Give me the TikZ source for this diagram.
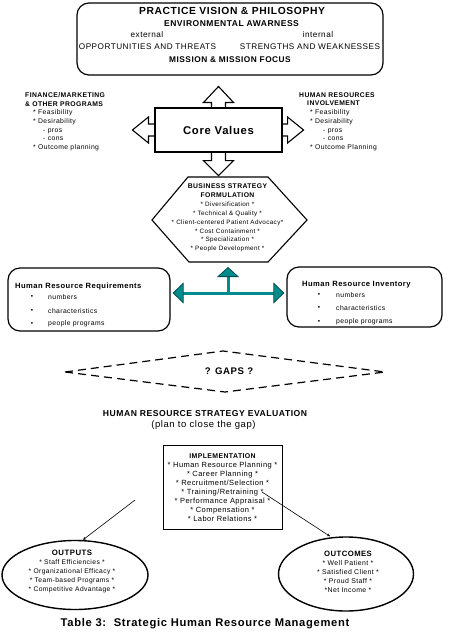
\documentclass[tikz,border=0pt]{standalone}
\usepackage{fontspec}
\setmainfont{Liberation Sans}[LetterSpace=6]
\usetikzlibrary{arrows.meta,shapes.geometric,calc}
\definecolor{tealA}{RGB}{0,140,140}
\definecolor{tealB}{RGB}{0,80,80}
\newcommand\fs[2]{\fontsize{#1}{#2}\selectfont}
\tikzset{
  thead/.tip={Triangle[length=11pt,width=21pt,fill=tealA,color=tealB,line width=0.8pt]},
  tstem/.tip={Triangle[length=10pt,width=22pt,fill=tealA,color=tealB,line width=0.8pt]}
}
\begin{document}
\begin{tikzpicture}[x=1pt,y=-1pt,
  box/.style={draw, line width=1.2pt, rounded corners=12pt, inner sep=0pt},
  plain/.style={inner sep=0pt},
  blk/.style={draw, line width=1.1pt, line join=miter},
  tealline/.style={draw=tealA, line width=3pt},
  thin/.style={draw, line width=0.6pt, -{Stealth[length=3pt,width=3pt]}},
  oval/.style={ellipse, draw, line width=1.4pt, inner sep=0pt}
]
\useasboundingbox (0,0) rectangle (450,635);

% ---------- top box ----------
\node[box, minimum width=306pt, minimum height=72pt] (vision) at (230,39) {};
\node[plain, font=\bfseries\fs{10.3}{11}] (t1) at (232,11) {PRACTICE VISION \& PHILOSOPHY};
\node[plain, font=\bfseries\fs{8.5}{9}] (t2) at (231.5,24) {ENVIRONMENTAL AWARNESS};
\node[plain, font=\fs{8.2}{9}] (t3) at (147,35) {external};
\node[plain, font=\fs{8.2}{9}] (t4) at (318,35) {internal};
\node[plain, font=\fs{8.2}{9}] (t5) at (147.5,47) {OPPORTUNITIES AND THREATS};
\node[plain, font=\fs{8.2}{9}] (t6) at (310,47) {STRENGTHS AND WEAKNESSES};
\node[plain, font=\bfseries\fs{8.3}{9}] (t7) at (230,60) {MISSION \& MISSION FOCUS};

% ---------- side texts ----------
\node[plain, anchor=north west, align=left, font=\fs{6.8}{8.7}] (fin) at (25,92.3)
 {\textbf{FINANCE/MARKETING}\\
  \textbf{\& OTHER PROGRAMS}\\
  \hspace*{8pt}* Feasibility\\
  \hspace*{8pt}* Desirability\\
  \hspace*{18pt}- pros\\
  \hspace*{18pt}- cons\\
  \hspace*{8pt}* Outcome planning};
\node[plain, anchor=north west, align=left, font=\fs{6.8}{8.7}] (hri) at (299,92.3)
 {\textbf{HUMAN RESOURCES}\\
  \hspace*{8pt}\textbf{INVOLVEMENT}\\
  \hspace*{11pt}* Feasibility\\
  \hspace*{11pt}* Desirability\\
  \hspace*{24pt}- pros\\
  \hspace*{24pt}- cons\\
  \hspace*{11pt}* Outcome Planning};

% ---------- core values ----------
\node[draw, line width=1.1pt, minimum width=127pt, minimum height=44pt, inner sep=0pt,
      font=\bfseries\fs{11.3}{12}] (core) at (218.5,130) {Core Values};
% up
\draw[blk] ($(core.north)+(-7,0)$) -- ++(0,-5) -- ++(-8,0) -- ($(core.north)+(0,-21)$)
  -- ($(core.north)+(15,-5)$) -- ++(-8,0) -- ++(0,5);
% left
\draw[blk] ($(core.west)+(0,-6)$) -- ++(-6,0) -- ++(0,-7) -- ($(core.west)+(-22,0)$)
  -- ($(core.west)+(-6,13)$) -- ++(0,-7) -- ++(6,0);
% right
\draw[blk] ($(core.east)+(0,-6)$) -- ++(5,0) -- ++(0,-7) -- ($(core.east)+(21,0)$)
  -- ($(core.east)+(5,13)$) -- ++(0,-7) -- ++(-5,0);
% down (to strategy)
\draw[blk] ($(core.south)+(-7,0)$) -- ++(0,8) -- ++(-8,0) -- ($(core.south)+(0,23)$)
  -- ($(core.south)+(15,8)$) -- ++(-8,0) -- ++(0,-8);

% ---------- business strategy hexagon ----------
\draw[line width=1.1pt, line join=miter] (188,177) -- (268,177) -- (307,220) -- (268,262)
  -- (189,262) -- (152,220) -- cycle;
\coordinate (hexS) at (228,262);
\node[plain, align=center, font=\fs{6.3}{8.9}] (bsf) at (227.5,218)
 {{\bfseries\fs{6.8}{8.9}BUSINESS STRATEGY}\\
  {\bfseries\fs{6.8}{8.9}FORMULATION}\\
  * Diversification *\\
  * Technical \& Quality *\\
  * Client-centered Patient Advocacy*\\
  * Cost Containment *\\
  * Specialization *\\
  * People Development *};

% ---------- HR boxes ----------
\node[box, minimum width=162pt, minimum height=63pt] (hrreq) at (89,299.5) {};
\node[box, minimum width=155pt, minimum height=60pt] (hrinv) at (364.5,297) {};

\node[plain, anchor=west, font=\bfseries\fs{7.6}{9}] (rq0) at (15,287) {Human Resource Requirements};
\node[plain, font=\fs{6.5}{8}] (rb1) at (32,297) {\textbullet};
\node[plain, font=\fs{6.5}{8}] (rb2) at (32,311) {\textbullet};
\node[plain, font=\fs{6.5}{8}] (rb3) at (32,323.5) {\textbullet};
\node[plain, anchor=west, font=\fs{6.8}{8}] (rq1) at (48,297) {numbers};
\node[plain, anchor=west, font=\fs{6.8}{8}] (rq2) at (48,311) {characteristics};
\node[plain, anchor=west, font=\fs{6.8}{8}] (rq3) at (48,323.5) {people programs};

\node[plain, anchor=west, font=\bfseries\fs{7.6}{9}] (iv0) at (302,285) {Human Resource Inventory};
\node[plain, font=\fs{6.5}{8}] (ib1) at (319,295) {\textbullet};
\node[plain, font=\fs{6.5}{8}] (ib2) at (319,308) {\textbullet};
\node[plain, font=\fs{6.5}{8}] (ib3) at (319,321.5) {\textbullet};
\node[plain, anchor=west, font=\fs{6.8}{8}] (iv1) at (336,295) {numbers};
\node[plain, anchor=west, font=\fs{6.8}{8}] (iv2) at (336,308) {characteristics};
\node[plain, anchor=west, font=\fs{6.8}{8}] (iv3) at (336,321.5) {people programs};

% ---------- teal T connector ----------
\coordinate (tj) at (228,293);
\draw[tealline, thead-thead, shorten <=2pt, shorten >=2pt]
  (hrreq.east |- tj) -- (hrinv.west |- tj);
\draw[tealline, -tstem, shorten >=5pt] (tj) -- (hexS);

% ---------- gaps ----------
\draw[line width=1.2pt, dash pattern=on 8pt off 5pt] (65,372) -- (223,351) -- (385,372)
  -- (225,392) -- cycle;
\node[plain, font=\bfseries\fs{9.6}{10}] (gaps) at (229,371) {? GAPS ?};

\node[plain, font=\bfseries\fs{8.6}{9}] (ev1) at (205,414) {HUMAN RESOURCE STRATEGY EVALUATION};
\node[plain, font=\fs{9.5}{10}] (ev2) at (203.5,425) {(plan to close the gap)};

% ---------- implementation ----------
\node[draw, line width=1pt, minimum width=119pt, minimum height=84pt, inner sep=0pt] (impl) at (222.5,487) {};
\node[plain, align=center, font=\fs{7.5}{9}] (implT) at (222.5,487.5)
 {{\bfseries\fs{6.9}{9}IMPLEMENTATION}\\
  * Human Resource Planning *\\
  * Career Planning *\\
  * Recruitment/Selection *\\
  * Training/Retraining *\\
  * Performance Appraisal *\\
  * Compensation *\\
  * Labor Relations *};

% ---------- outputs / outcomes ----------
\node[oval, minimum width=146pt, minimum height=69pt] (outputs) at (75,575) {};
\node[oval, minimum width=135pt, minimum height=74pt] (outcomes) at (346,574) {};

\node[plain, align=center, font=\fs{6.7}{9}] (outT) at (72,571)
 {{\bfseries\fs{7.8}{9}OUTPUTS}\\
  * Staff Efficiencies *\\
  * Organizational Efficacy *\\
  * Team-based Programs *\\
  * Competitive Advantage *};
\node[plain, align=center, font=\fs{6.9}{9}] (ocT) at (348,572)
 {{\bfseries\fs{7.7}{9}OUTCOMES}\\
  * Well Patient *\\
  * Satisfied Client *\\
  * Proud Staff *\\
  *Net Income *};

\coordinate (la) at (135,500);
\coordinate (rb) at (262,492);
\draw[thin] (la) -- ([xshift=8pt]outputs.north);
\draw[thin] (rb) -- ([xshift=-16pt]outcomes.north);

% ---------- caption ----------
\node[plain, font=\bfseries\fs{11.2}{12}] (cap) at (205,624) {Table 3:\ \ Strategic Human Resource Management};
\end{tikzpicture}
\end{document}
